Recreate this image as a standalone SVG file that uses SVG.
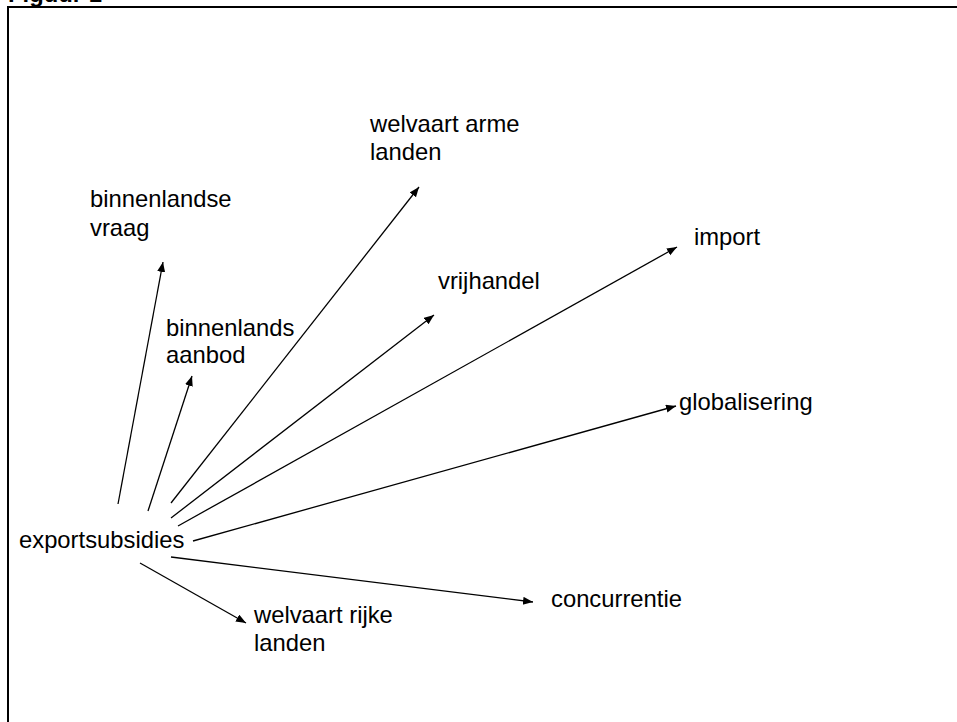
<svg xmlns="http://www.w3.org/2000/svg" width="957" height="722" viewBox="0 0 957 722">
<style>
text{font-family:"Liberation Sans",Arial,sans-serif;font-size:23.8px;fill:#000}
.c line{stroke:#000;stroke-width:1.3;marker-end:url(#ah)}
</style>
<defs>
<marker id="ah" markerUnits="userSpaceOnUse" markerWidth="12" markerHeight="10" refX="10" refY="4" orient="auto">
<path d="M0,0 L10,4 L0,8 Z" fill="#000"/>
</marker>
</defs>
<rect width="957" height="722" fill="#fff"/>
<text x="8" y="1.5" font-weight="bold">Figuur 1</text>
<path d="M8,722 V7 H957" fill="none" stroke="#000" stroke-width="2"/>
<g class="c" id="connectors">
<line x1="118" y1="504" x2="163" y2="262"/>
<line x1="148" y1="511" x2="192" y2="376"/>
<line x1="171" y1="503" x2="419" y2="187"/>
<line x1="171" y1="518" x2="434" y2="315"/>
<line x1="178" y1="526" x2="677" y2="247"/>
<line x1="193" y1="541" x2="676" y2="406"/>
<line x1="171" y1="557" x2="533" y2="602"/>
<line x1="140" y1="563" x2="246" y2="623"/>
</g>
<g id="exportsubsidies"><text x="19" y="548">exportsubsidies</text></g>
<g id="binnenlandse-vraag"><text x="90" y="207">binnenlandse</text><text x="90" y="236">vraag</text></g>
<g id="binnenlands-aanbod"><text x="166" y="336">binnenlands</text><text x="166" y="363">aanbod</text></g>
<g id="welvaart-arme-landen"><text x="370" y="132">welvaart arme</text><text x="370" y="160">landen</text></g>
<g id="vrijhandel"><text x="438" y="289">vrijhandel</text></g>
<g id="import"><text x="694" y="245">import</text></g>
<g id="globalisering"><text x="679" y="410">globalisering</text></g>
<g id="concurrentie"><text x="551" y="607">concurrentie</text></g>
<g id="welvaart-rijke-landen"><text x="254" y="623">welvaart rijke</text><text x="254" y="651">landen</text></g>
</svg>
